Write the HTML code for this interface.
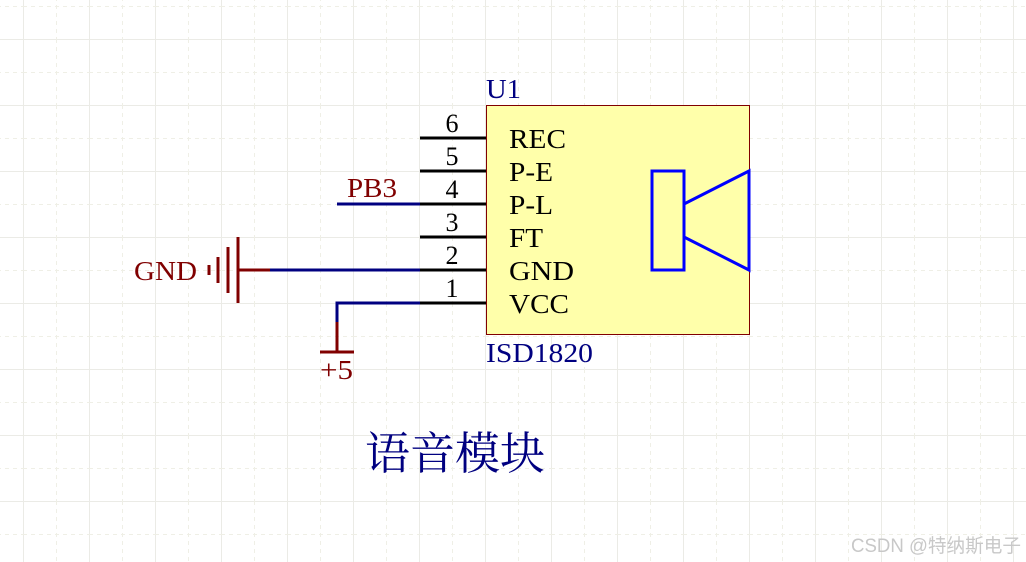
<!DOCTYPE html>
<html><head><meta charset="utf-8"><style>
html,body{margin:0;padding:0;background:#fff;}
svg{display:block;}
</style></head><body>
<svg width="1026" height="562" xmlns="http://www.w3.org/2000/svg">
<defs>
<pattern id="g" x="23" y="39" width="66" height="66" patternUnits="userSpaceOnUse">
<line x1="0.5" y1="0" x2="0.5" y2="66" stroke="#ebebe6" stroke-width="1"/>
<line x1="0" y1="0.5" x2="66" y2="0.5" stroke="#ebebe6" stroke-width="1"/>
<line x1="33.5" y1="0" x2="33.5" y2="66" stroke="#efefe6" stroke-width="1" stroke-dasharray="4,4"/>
<line x1="0" y1="33.5" x2="66" y2="33.5" stroke="#efefe6" stroke-width="1" stroke-dasharray="4,4"/>
</pattern>
</defs>
<rect width="1026" height="562" fill="url(#g)"/>
<rect x="486.5" y="105.5" width="263" height="229" fill="#ffffaa" stroke="#800000" stroke-width="1"/>
<g stroke="#000" stroke-width="3">
<line x1="420" y1="138" x2="486" y2="138"/>
<line x1="420" y1="171" x2="486" y2="171"/>
<line x1="420" y1="204" x2="486" y2="204"/>
<line x1="420" y1="237" x2="486" y2="237"/>
<line x1="420" y1="270" x2="486" y2="270"/>
<line x1="420" y1="303" x2="486" y2="303"/>
</g>
<g font-family="Liberation Serif, serif" font-size="26" fill="#000" text-anchor="middle">
<text x="452" y="132">6</text><text x="452" y="165">5</text><text x="452" y="198">4</text>
<text x="452" y="231">3</text><text x="452" y="264">2</text><text x="452" y="297">1</text>
</g>
<g font-family="Liberation Serif, serif" font-size="27" fill="#000">
<text x="509" y="148" textLength="57" lengthAdjust="spacingAndGlyphs">REC</text>
<text x="509" y="181" textLength="44" lengthAdjust="spacingAndGlyphs">P-E</text>
<text x="509" y="214" textLength="44" lengthAdjust="spacingAndGlyphs">P-L</text>
<text x="509" y="247" textLength="34" lengthAdjust="spacingAndGlyphs">FT</text>
<text x="509" y="280" textLength="65" lengthAdjust="spacingAndGlyphs">GND</text>
<text x="509" y="313" textLength="60" lengthAdjust="spacingAndGlyphs">VCC</text>
</g>
<g font-family="Liberation Serif, serif" font-size="27" fill="#000080">
<text x="486" y="98" textLength="35" lengthAdjust="spacingAndGlyphs">U1</text>
<text x="486" y="362" textLength="107" lengthAdjust="spacingAndGlyphs">ISD1820</text>
</g>
<g stroke="#0000ff" stroke-width="3" fill="none">
<rect x="652" y="171" width="32" height="99"/>
<polyline points="684,204 749,171 749,270 684,237"/>
</g>
<g stroke="#000080" stroke-width="3" fill="none">
<line x1="337" y1="204" x2="420" y2="204"/>
<line x1="270" y1="270" x2="420" y2="270"/>
<polyline points="420,303 337,303 337,322"/>
</g>
<g stroke="#800000" stroke-width="3">
<line x1="238" y1="270" x2="270" y2="270"/>
<line x1="238" y1="237" x2="238" y2="303"/>
<line x1="228" y1="247" x2="228" y2="293"/>
<line x1="218" y1="257" x2="218" y2="283"/>
<line x1="209" y1="265" x2="209" y2="275"/>
<line x1="337" y1="322" x2="337" y2="352"/>
<line x1="320" y1="352" x2="354" y2="352"/>
</g>
<g font-family="Liberation Serif, serif" font-size="27" fill="#800000">
<text x="134" y="280" textLength="63" lengthAdjust="spacingAndGlyphs">GND</text>
<text x="347" y="197" textLength="50" lengthAdjust="spacingAndGlyphs">PB3</text>
<text x="320" y="379" textLength="33" lengthAdjust="spacingAndGlyphs">+5</text>
</g>
<text x="365" y="469" font-family="'Noto Serif CJK SC', serif" font-size="45" fill="#000080" textLength="180" lengthAdjust="spacingAndGlyphs">语音模块</text>
<text x="851" y="552" font-family="'Liberation Sans','Noto Sans CJK SC',sans-serif" font-size="19" fill="#c8c8c8" textLength="170" lengthAdjust="spacingAndGlyphs">CSDN @特纳斯电子</text>
</svg>
</body></html>
